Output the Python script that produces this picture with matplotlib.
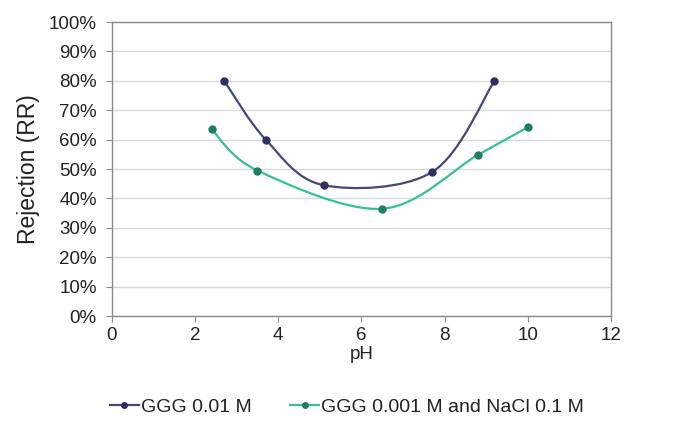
import matplotlib
matplotlib.use("Agg")
import matplotlib.pyplot as plt
from matplotlib.path import Path
from matplotlib.patches import PathPatch
from matplotlib.lines import Line2D
from matplotlib.ticker import PercentFormatter
import numpy as np

plt.rcParams['font.family'] = ['Liberation Sans', 'DejaVu Sans']

# Data
ph_ggg = [2.7, 3.7, 5.1, 7.7, 9.2]
rr_ggg = [0.80, 0.60, 0.445, 0.49, 0.80]
ph_nacl = [2.4, 3.5, 6.5, 8.8, 10.0]
rr_nacl = [0.635, 0.495, 0.365, 0.548, 0.642]
labels = ["GGG 0.01 M", "GGG 0.001 M and NaCl 0.1 M"]
x_ticks = [0, 2, 4, 6, 8, 10, 12]
y_ticks = [0, 0.1, 0.2, 0.3, 0.4, 0.5, 0.6, 0.7, 0.8, 0.9, 1.0]

col_ggg_line, col_ggg_mark = '#45477a', '#2e3060'
col_nacl_line, col_nacl_mark = '#34c390', '#1d7f5e'

fig = plt.figure(figsize=(6.91, 4.33), dpi=100)
ax = fig.add_axes([0.162, 0.270, 0.722, 0.679])


def smooth_path(xs, ys):
    """Excel-style smoothed line: cubic Bezier segments through the points."""
    pts = np.column_stack([xs, ys]).astype(float)
    n = len(pts)
    verts = [pts[0]]
    codes = [Path.MOVETO]
    for i in range(n - 1):
        p0 = pts[i - 1] if i > 0 else pts[i]
        p1 = pts[i]
        p2 = pts[i + 1]
        p3 = pts[i + 2] if i + 2 < n else pts[i + 1]
        c1 = p1 + (p2 - p0) / 6.0
        c2 = p2 - (p3 - p1) / 6.0
        verts += [c1, c2, p2]
        codes += [Path.CURVE4] * 3
    return Path(verts, codes)


for xs, ys, lc, mc in [(ph_ggg, rr_ggg, col_ggg_line, col_ggg_mark),
                       (ph_nacl, rr_nacl, col_nacl_line, col_nacl_mark)]:
    patch = PathPatch(smooth_path(xs, ys), facecolor='none', edgecolor=lc,
                      lw=1.6, transform=ax.transData, zorder=3)
    ax.add_patch(patch)
    ax.plot(xs, ys, linestyle='none', marker='o', ms=5, color=mc, zorder=4)

ax.set_xlim(0, 12)
ax.set_ylim(0, 1.0)
ax.set_xticks(x_ticks)
ax.set_yticks(y_ticks)
ax.yaxis.set_major_formatter(PercentFormatter(1.0, decimals=0))
ax.grid(axis='y', color='#d9d9d9', lw=1)
ax.set_axisbelow(True)
for s in ax.spines.values():
    s.set_color('#8a8a8a')
    s.set_linewidth(1)
ax.tick_params(axis='both', colors='#8a8a8a', labelcolor='#222222',
               labelsize=13.5, length=4, direction='out')
ax.tick_params(axis='y', pad=7)
ax.set_xlabel('pH', fontsize=13.5, color='#222222', labelpad=2)
ax.set_ylabel('Rejection (RR)', fontsize=16.5, color='#222222', labelpad=6)

handles = [Line2D([], [], color=col_ggg_line, marker='o', ms=4, mfc=col_ggg_mark,
                  mec=col_ggg_mark, lw=1.6),
           Line2D([], [], color=col_nacl_line, marker='o', ms=4, mfc=col_nacl_mark,
                  mec=col_nacl_mark, lw=1.6)]
fig.legend(handles, labels, loc='center', bbox_to_anchor=(0.502, 0.06), ncol=2,
           frameon=False, fontsize=14, handlelength=1.5, handletextpad=0.1,
           columnspacing=2.0, labelcolor='#222222')

fig.savefig('out.png', dpi=100)
